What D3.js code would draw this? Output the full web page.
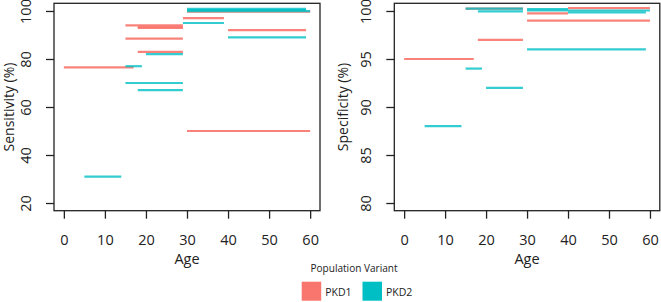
<!DOCTYPE html>
<html>
<head>
<meta charset="utf-8">
<script src="https://cdn.jsdelivr.net/npm/d3@7"></script>
<style>
  body { margin: 0; background: #fff; }
  svg { display: block; }
  text { font-family: "Open Sans", sans-serif; fill: #222; }
</style>
</head>
<body>
<div id="chart"></div>
<script>
// Segments: age from, age to, value (%)
var sensitivityPKD1 = [
  { from: 0, to: 17, value: 76.5 },
  { from: 15, to: 29, value: 94 },
  { from: 18, to: 29, value: 93.4 },
  { from: 18, to: 29, value: 92.9 },
  { from: 15, to: 29, value: 88.5 },
  { from: 18, to: 29, value: 83 },
  { from: 29, to: 39, value: 97 },
  { from: 40, to: 59, value: 92 },
  { from: 30, to: 60, value: 50 },
  { from: 30, to: 60, value: 99.7 }
];
var sensitivityPKD2 = [
  { from: 15, to: 19, value: 77 },
  { from: 20, to: 29, value: 82 },
  { from: 15, to: 29, value: 70 },
  { from: 18, to: 29, value: 67 },
  { from: 5, to: 14, value: 31 },
  { from: 29, to: 39, value: 95 },
  { from: 40, to: 59, value: 89 },
  { from: 30, to: 60, value: 99.9 },
  { from: 30, to: 59, value: 100.4 },
  { from: 30, to: 59, value: 100.9 }
];
var specificityPKD1 = [
  { from: 0, to: 17, value: 95 },
  { from: 18, to: 29, value: 97 },
  { from: 30, to: 60, value: 99 },
  { from: 15, to: 29, value: 100.25 },
  { from: 30, to: 40, value: 99.75 },
  { from: 40, to: 60, value: 100.3 }
];
var specificityPKD2 = [
  { from: 15, to: 19, value: 94 },
  { from: 20, to: 29, value: 92 },
  { from: 5, to: 14, value: 88 },
  { from: 30, to: 59, value: 96 },
  { from: 15, to: 29, value: 100.25 },
  { from: 18, to: 29, value: 99.95 },
  { from: 30, to: 40, value: 100.05 },
  { from: 30, to: 40, value: 100.2 },
  { from: 40, to: 59, value: 99.85 },
  { from: 40, to: 60, value: 100.05 }
];

var ageTicks = [0, 10, 20, 30, 40, 50, 60];
var sensitivityTicks = [20, 40, 60, 80, 100];
var specificityTicks = [80, 85, 90, 95, 100];
var variants = ["PKD1", "PKD2"];
var colors = { PKD1: "#F8766D", PKD2: "#00BFC4" };

var width = 661, height = 302;

var svg = d3.select("#chart")
  .append("svg")
    .attr("width", width)
    .attr("height", height);

function drawPanel(opts) {
  // R-style 4% padding around data range
  var x = d3.scaleLinear().domain([-2.4, 62.4]).range([opts.left, opts.right]);
  var y = d3.scaleLinear().domain(opts.yDomain).range([210.7, 3.3]);

  var g = svg.append("g");

  // Lines, PKD1 first then PKD2 on top
  [["PKD1", opts.pkd1, 0.9], ["PKD2", opts.pkd2, 0.8]].forEach(function(s) {
    g.selectAll(".seg-" + s[0])
      .data(s[1])
      .enter()
      .append("line")
      .attr("class", "seg-" + s[0])
      .attr("x1", function(d) { return x(d.from); })
      .attr("x2", function(d) { return x(d.to); })
      .attr("y1", function(d) { return y(d.value); })
      .attr("y2", function(d) { return y(d.value); })
      .attr("stroke", colors[s[0]])
      .attr("stroke-opacity", s[2])
      .attr("stroke-width", 2.2);
  });

  // Box
  g.append("rect")
    .attr("x", opts.left)
    .attr("y", 3.3)
    .attr("width", opts.right - opts.left)
    .attr("height", 210.7 - 3.3)
    .attr("fill", "none")
    .attr("stroke", "#222")
    .attr("stroke-width", 1.3);

  // X axis
  var xa = g.append("g")
    .attr("transform", "translate(0,210.7)")
    .call(d3.axisBottom(x).tickValues(ageTicks).tickSize(8).tickPadding(16).tickSizeOuter(0));
  xa.select(".domain").remove();
  xa.selectAll(".tick line").attr("stroke", "#222").attr("stroke-width", 1.3);
  xa.selectAll("text").attr("font-size", "14.5px").attr("fill", "#222")
    .style("font-family", "'Open Sans', sans-serif");

  // Y axis with rotated labels
  var ya = g.append("g")
    .attr("transform", "translate(" + opts.left + ",0)")
    .call(d3.axisLeft(y).tickValues(opts.yTicks).tickSize(8).tickSizeOuter(0));
  ya.select(".domain").remove();
  ya.selectAll(".tick line").attr("stroke", "#222").attr("stroke-width", 1.3);
  ya.selectAll("text")
    .attr("transform", "rotate(-90)")
    .attr("x", 0)
    .attr("y", -23)
    .attr("dy", 0)
    .attr("text-anchor", "middle")
    .attr("font-size", "14.5px")
    .attr("fill", "#222")
    .style("font-family", "'Open Sans', sans-serif");

  // Axis titles
  g.append("text")
    .attr("x", (x(0) + x(60)) / 2)
    .attr("y", 264)
    .attr("text-anchor", "middle")
    .attr("font-size", "14.5px")
    .text("Age");

  g.append("text")
    .attr("transform", "translate(" + opts.titleX + ",107) rotate(-90)")
    .attr("text-anchor", "middle")
    .attr("font-size", "14px")
    .text(opts.title);
}

drawPanel({ left: 54, right: 320, yDomain: [16.8, 103.2], yTicks: sensitivityTicks,
  pkd1: sensitivityPKD1, pkd2: sensitivityPKD2, title: "Sensitivity (%)", titleX: 13.5 });
drawPanel({ left: 394.3, right: 659.8, yDomain: [79.2, 100.8], yTicks: specificityTicks,
  pkd1: specificityPKD1, pkd2: specificityPKD2, title: "Specificity (%)", titleX: 347.5 });

// Legend
var legend = svg.append("g");
legend.append("text")
  .attr("x", 354)
  .attr("y", 272)
  .attr("text-anchor", "middle")
  .attr("font-size", "11.5px")
  .attr("textLength", 87)
  .attr("lengthAdjust", "spacingAndGlyphs")
  .text("Population Variant");

var swatchX = { PKD1: 301.7, PKD2: 362.5 };
variants.forEach(function(v) {
  legend.append("rect")
    .attr("x", swatchX[v])
    .attr("y", 281.7)
    .attr("width", 19.5)
    .attr("height", 19)
    .attr("fill", colors[v]);
  legend.append("text")
    .attr("x", swatchX[v] + 23.5)
    .attr("y", 295.5)
    .attr("font-size", "10.5px")
    .text(v);
});
</script>
</body>
</html>
